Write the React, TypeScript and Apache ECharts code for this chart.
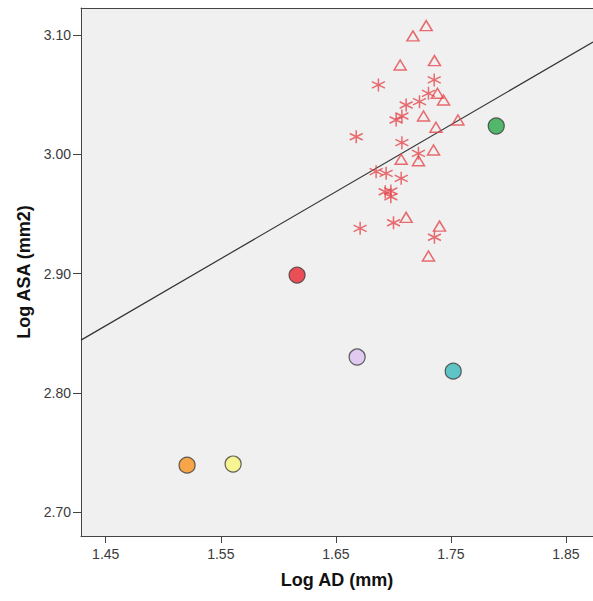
import React, { useEffect, useRef } from "react";
import * as echarts from "echarts";

// Individual measurements (log AD, log ASA)
const triangleX = [1.7285, 1.717, 1.7059, 1.7357, 1.7383, 1.7436, 1.7262, 1.737, 1.7561, 1.7349, 1.7068, 1.7218, 1.7111, 1.7401, 1.7305];
const triangleY = [3.1078, 3.0992, 3.0748, 3.0785, 3.0511, 3.0455, 3.0321, 3.0226, 3.0287, 3.0036, 2.9958, 2.9946, 2.9471, 2.9398, 2.9147];

const starX = [1.7355, 1.687, 1.7305, 1.7227, 1.7111, 1.7074, 1.7024, 1.6677, 1.7074, 1.7218, 1.685, 1.6937, 1.7068, 1.6929, 1.6978, 1.6978, 1.7001, 1.6711, 1.7357];
const starY = [3.0623, 3.0581, 3.0511, 3.0441, 3.0413, 3.0321, 3.0287, 3.0147, 3.0097, 3.0008, 2.9854, 2.984, 2.9798, 2.9686, 2.9692, 2.9644, 2.9426, 2.9379, 2.9304];

// Highlighted specimens
const highlightX = [1.6163, 1.7894, 1.6685, 1.752, 1.5207, 1.5607];
const highlightY = [2.8987, 3.0237, 2.83, 2.8182, 2.7394, 2.7403];
const highlightColors = ["#e8252f", "#2aa84a", "#dcc0f0", "#39b9bb", "#f7931e", "#f9f57a"];

// Fitted line endpoints
const fitX = [1.4285, 1.8735];
const fitY = [2.8442, 3.0941];

const xTicks = [1.45, 1.55, 1.65, 1.75, 1.85];
const yTicks = [2.7, 2.8, 2.9, 3.0, 3.1];

const X_MIN = 1.4285;
const X_MAX = 1.8735;
const Y_MIN = 2.68;
const Y_MAX = 3.1226;

const MARK_RED = "#e5484f";
const AXIS_COLOR = "#444";
const FONT = "'Liberation Sans', Arial, sans-serif";

const STAR_PATH = "path://M6,0 L6,12 M0.8,3 L11.2,9 M0.8,9 L11.2,3";

export default function App() {
  const ref = useRef<HTMLDivElement>(null);

  useEffect(() => {
    if (!ref.current) return;
    const chart = echarts.init(ref.current, undefined, { renderer: "svg" });

    const labelStyle = { color: "#3a3a3a", fontSize: 14, fontFamily: FONT };
    const nameStyle = { color: "#111", fontSize: 18, fontWeight: "bold" as const, fontFamily: FONT };

    chart.setOption({
      animation: false,
      backgroundColor: "#ffffff",
      grid: {
        left: 81,
        top: 8,
        right: 0,
        bottom: 65,
        show: true,
        backgroundColor: "#f0f0f0",
        borderWidth: 0,
      },
      xAxis: [
        {
          type: "value",
          min: X_MIN,
          max: X_MAX,
          position: "bottom",
          name: "Log AD (mm)",
          nameLocation: "middle",
          nameGap: 35,
          nameTextStyle: nameStyle,
          axisLine: { show: true, onZero: false, lineStyle: { color: AXIS_COLOR, width: 1 } },
          axisTick: { show: true, length: 7, customValues: xTicks, lineStyle: { color: AXIS_COLOR } },
          axisLabel: {
            ...labelStyle,
            margin: 11,
            customValues: xTicks,
            formatter: (v: number) => v.toFixed(2),
          },
          splitLine: { show: false },
        },
        {
          type: "value",
          min: X_MIN,
          max: X_MAX,
          position: "top",
          axisLine: { show: true, onZero: false, lineStyle: { color: AXIS_COLOR, width: 1 } },
          axisTick: { show: false },
          axisLabel: { show: false },
          splitLine: { show: false },
        },
      ],
      yAxis: {
        type: "value",
        min: Y_MIN,
        max: Y_MAX,
        name: "Log ASA (mm2)",
        nameLocation: "middle",
        nameRotate: 90,
        nameGap: 48,
        nameTextStyle: nameStyle,
        axisLine: { show: true, onZero: false, lineStyle: { color: AXIS_COLOR, width: 1 } },
        axisTick: { show: true, length: 8, customValues: yTicks, lineStyle: { color: AXIS_COLOR } },
        axisLabel: {
          ...labelStyle,
          margin: 10,
          customValues: yTicks,
          formatter: (v: number) => v.toFixed(2),
        },
        splitLine: { show: false },
      },
      series: [
        {
          type: "line",
          data: fitX.map((x, i) => [x, fitY[i]]),
          symbol: "none",
          lineStyle: { color: "#333", width: 1.2 },
          z: 2,
          silent: true,
        },
        {
          type: "scatter",
          data: triangleX.map((x, i) => [x, triangleY[i]]),
          symbol: "triangle",
          symbolSize: [12, 10],
          itemStyle: { color: "rgba(0,0,0,0)", borderColor: MARK_RED, borderWidth: 1.5 },
          z: 3,
        },
        {
          type: "scatter",
          data: starX.map((x, i) => [x, starY[i]]),
          symbol: STAR_PATH,
          symbolSize: 13,
          itemStyle: { color: "rgba(0,0,0,0)", borderColor: MARK_RED, borderWidth: 1.5 },
          z: 3,
        },
        {
          type: "scatter",
          data: highlightX.map((x, i) => ({
            value: [x, highlightY[i]],
            itemStyle: { color: highlightColors[i] },
          })),
          symbol: "circle",
          symbolSize: 16,
          itemStyle: { borderColor: "#3a3a3a", borderWidth: 1.2 },
          z: 4,
        },
      ],
    });

    return () => chart.dispose();
  }, []);

  return (
    <div
      ref={ref}
      style={{ position: "fixed", left: 0, top: 0, width: 593, height: 601 }}
    />
  );
}
